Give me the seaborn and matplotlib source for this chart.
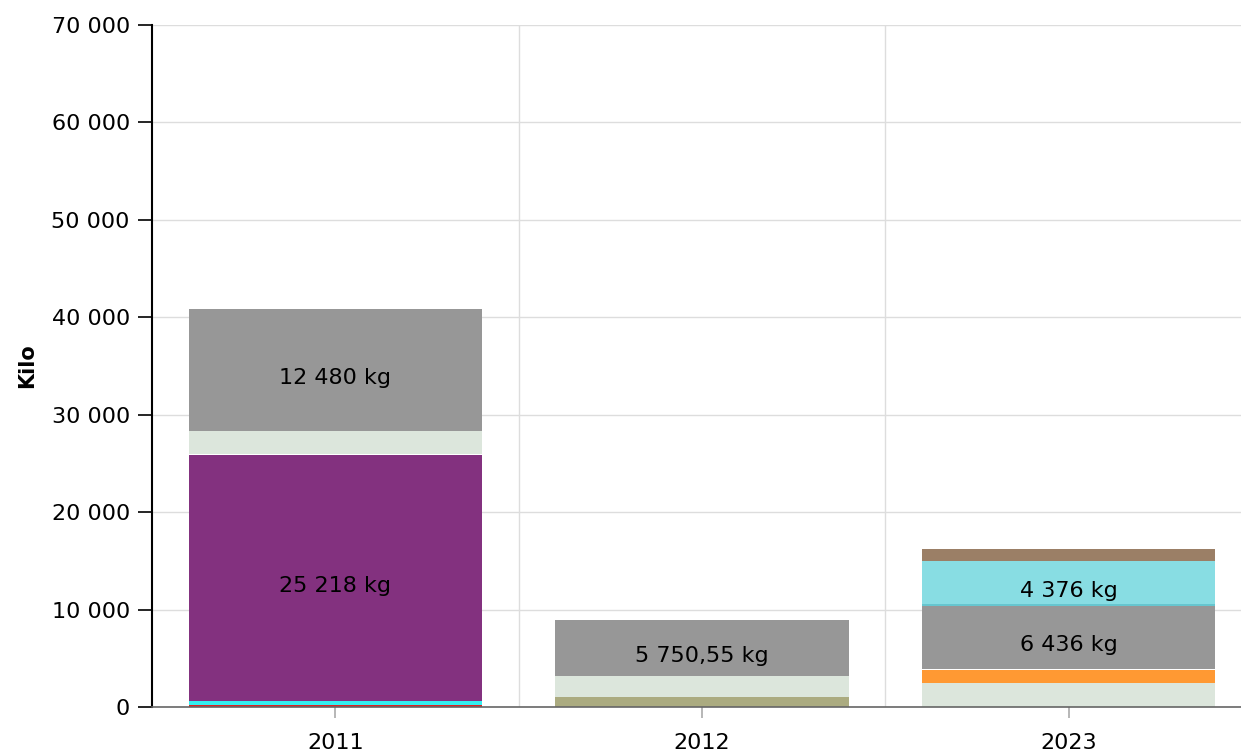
import pandas as pd
import matplotlib.pyplot as plt
import seaborn as sns
from matplotlib.ticker import FuncFormatter, FixedLocator

OUTPUT_IMAGE = 'out.png'

# Data: segments per year, listed bottom -> top
years = ['2011', '2012', '2023']
seg_year = ['2011', '2011', '2011', '2011', '2011', '2011',
            '2012', '2012', '2012',
            '2023', '2023', '2023', '2023', '2023', '2023', '2023']
seg_kind = ['red', 'cyan', 'purple', 'white', 'lightgreen', 'gray',
            'olive', 'lightgreen', 'gray',
            'lightgreen', 'orange', 'white', 'gray', 'teal', 'lightblue', 'brown']
seg_kg = [200, 420, 25218, 100, 2430, 12480,
          1030, 2160, 5750.55,
          2450, 1300, 200, 6436, 180, 4376, 1300]
seg_label = ['', '', '25 218 kg', '', '', '12 480 kg',
             '', '', '5 750,55 kg',
             '', '', '', '6 436 kg', '', '4 376 kg', '']

colors = {
    'red': '#dd2222',
    'cyan': '#33eef0',
    'purple': '#83317f',
    'white': '#ffffff',
    'lightgreen': '#dce6dc',
    'gray': '#979797',
    'olive': '#abab80',
    'orange': '#ff9933',
    'teal': '#66c6cf',
    'lightblue': '#88dde3',
    'brown': '#9b7f66',
}


def fmt_thousands(v, pos):
    return f"{int(v):,}".replace(',', ' ')


def generate_plot():
    df = pd.DataFrame({'year': seg_year, 'kind': seg_kind,
                       'kg': seg_kg, 'label': seg_label})
    df['top'] = df.groupby('year')['kg'].cumsum()
    df['bottom'] = df['top'] - df['kg']

    sns.set_theme(style='white')
    plt.rcParams['font.family'] = ['DejaVu Sans']

    fig = plt.figure(figsize=(12.41, 7.54), dpi=100)
    ax = fig.add_axes([152 / 1241, 47 / 754, 1100 / 1241, 682 / 754])

    # stacked bars: draw cumulative tops from highest to lowest so lower
    # segments overlay the upper ones
    for _, row in df.sort_values('top', ascending=False).iterrows():
        sns.barplot(x=[row['year']], y=[row['top']], order=years,
                    color=colors[row['kind']], saturation=1, width=0.8,
                    errorbar=None, linewidth=0, ax=ax)

    # value labels
    for _, row in df[df['label'] != ''].iterrows():
        xi = years.index(row['year'])
        ax.annotate(row['label'], xy=(xi, row['bottom'] + row['kg'] / 2),
                    xytext=(0, -8), textcoords='offset pixels',
                    ha='center', va='center', fontsize=16, color='#000000')

    ax.set_xlim(-0.5, 2.5)
    ax.set_ylim(0, 70000)
    ax.set_yticks(range(0, 70001, 10000))
    ax.yaxis.set_major_formatter(FuncFormatter(fmt_thousands))
    ax.xaxis.set_minor_locator(FixedLocator([0.5, 1.5]))

    ax.grid(axis='y', which='major', color='#dddddd', linewidth=1)
    ax.grid(axis='x', which='minor', color='#dddddd', linewidth=1)
    ax.grid(axis='x', which='major', visible=False)
    ax.set_axisbelow(True)

    ax.set_xlabel('')
    ax.set_ylabel('Kilo', fontsize=15, fontweight='bold', labelpad=10,
                  color='#000000')

    ax.tick_params(axis='y', which='major', left=True, length=10, width=1.2,
                   color='black', pad=6, labelsize=16, labelcolor='#000000')
    ax.tick_params(axis='x', which='major', bottom=True, length=8, width=1.2,
                   color='#aaaaaa', pad=11, labelsize=16, labelcolor='#000000')
    ax.tick_params(axis='x', which='minor', bottom=False, length=0)

    for side in ['top', 'right']:
        ax.spines[side].set_visible(False)
    ax.spines['left'].set_color('black')
    ax.spines['left'].set_linewidth(1.5)
    ax.spines['bottom'].set_color('#666666')
    ax.spines['bottom'].set_linewidth(1.2)

    fig.savefig(OUTPUT_IMAGE, dpi=100)


if __name__ == "__main__":
    generate_plot()
